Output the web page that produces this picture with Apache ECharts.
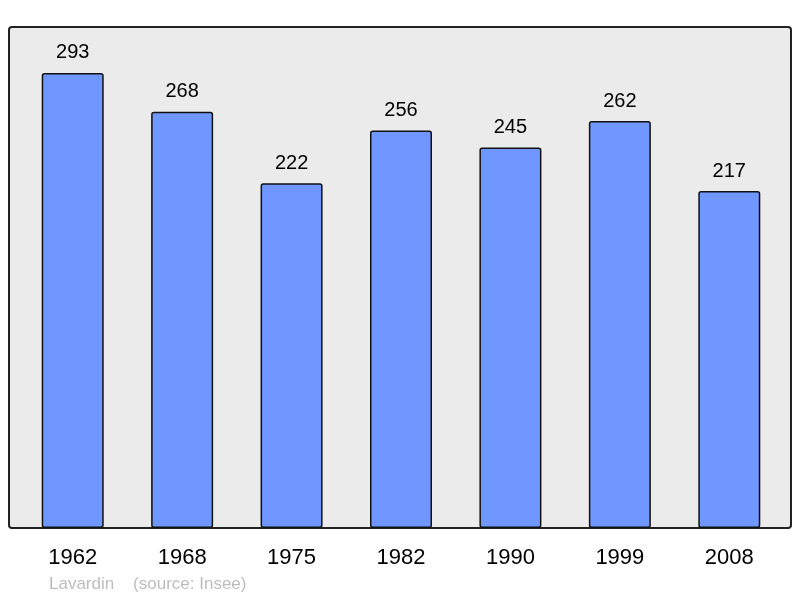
<!DOCTYPE html>
<html lang="fr">
<head>
  <meta charset="UTF-8">
  <title>Lavardin</title>
  <style>
    html, body { margin: 0; padding: 0; background: #fff; }
    #chart { width: 800px; height: 598px; }
  </style>
</head>
<body>
  <div id="chart"></div>
  <script src="https://cdn.jsdelivr.net/npm/echarts@6/dist/echarts.min.js"></script>
  <script>
    // population par recensement
    var years = ['1962', '1968', '1975', '1982', '1990', '1999', '2008']
    var population = [293, 268, 222, 256, 245, 262, 217]

    var myChart = echarts.init(document.getElementById('chart'))
    var option = {
      animation: false,
      textStyle: { fontFamily: 'Liberation Sans, Arial, sans-serif' },
      graphic: [
        {
          type: 'rect',
          shape: { x: 9, y: 27, width: 782, height: 501, r: 3 },
          style: { fill: '#ebebeb', stroke: '#222', lineWidth: 2 },
          z: -10
        },
        {
          type: 'text',
          left: 49,
          top: 576,
          style: {
            text: 'Lavardin    (source: Insee)',
            fill: '#bdbdbd',
            font: '17px Liberation Sans, Arial, sans-serif'
          }
        }
      ],
      grid: { left: 18, right: 16, top: 27, bottom: 70 },
      xAxis: {
        type: 'category',
        data: years,
        axisLine: { show: false },
        axisTick: { show: false },
        axisLabel: { color: '#000', fontSize: 22, margin: 19 }
      },
      yAxis: {
        type: 'value',
        min: 0,
        max: 322.6,
        show: false,
        splitLine: { show: false }
      },
      series: [
        {
          type: 'bar',
          data: population,
          barWidth: 62,
          itemStyle: {
            color: '#7096ff',
            borderColor: '#111',
            borderWidth: 1.5,
            borderRadius: 2
          },
          label: {
            show: true,
            position: 'top',
            distance: 10,
            color: '#000',
            fontSize: 20
          }
        }
      ]
    }
    myChart.setOption(option)
  </script>
</body>
</html>
